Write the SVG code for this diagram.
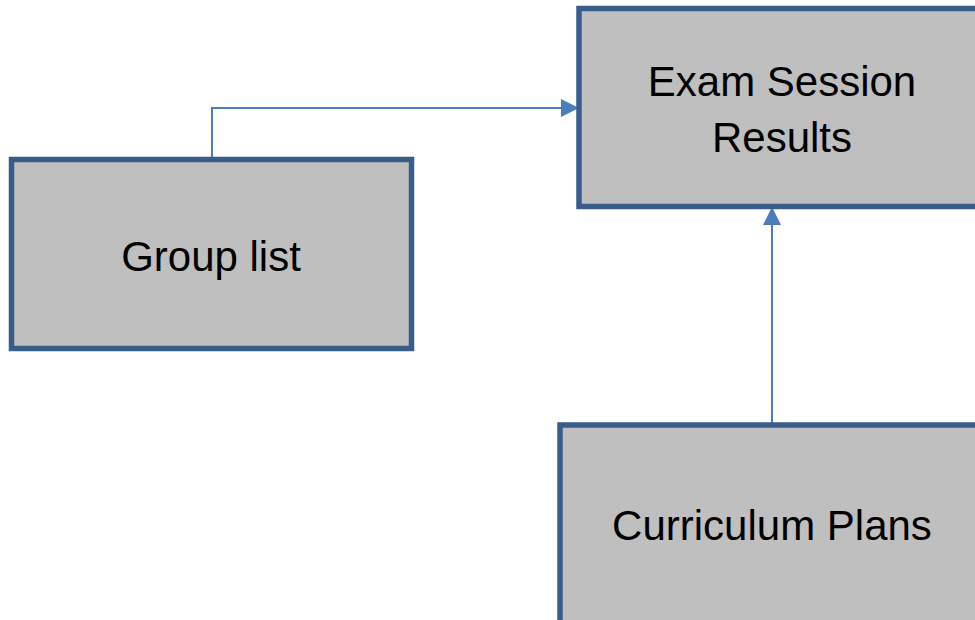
<svg xmlns="http://www.w3.org/2000/svg" width="975" height="620" viewBox="0 0 975 620">
<style>
.box{fill:#bfbfbf;stroke:#385d8a;stroke-width:5.5}
.lbl{font-family:"Liberation Sans",Arial,sans-serif;font-size:42px;fill:#000;text-anchor:middle}
.conn{fill:none;stroke:#4a7ebb;stroke-width:2}
</style>
<defs>
<marker id="arr" markerUnits="userSpaceOnUse" markerWidth="18" markerHeight="18" viewBox="0 0 18 18" refX="17" refY="9" orient="auto">
<path d="M0,0 L18,9 L0,18 Z" fill="#4a7ebb"/>
</marker>
</defs>
<rect width="975" height="620" fill="#fff"/>
<g id="connectors">
<path class="conn" d="M212,159 V108 H578" marker-end="url(#arr)"/>
<path class="conn" d="M772,425 V208" marker-end="url(#arr)"/>
</g>
<g id="exam">
<rect class="box" x="579" y="8.5" width="420" height="198"/>
<text class="lbl" x="782" y="96">Exam Session</text>
<text class="lbl" x="782" y="152">Results</text>
</g>
<g id="group">
<rect class="box" x="11.5" y="159.5" width="400" height="189"/>
<text class="lbl" x="211" y="271">Group list</text>
</g>
<g id="curriculum">
<rect class="box" x="560" y="425" width="440" height="220"/>
<text class="lbl" x="772" y="540">Curriculum Plans</text>
</g>
</svg>
